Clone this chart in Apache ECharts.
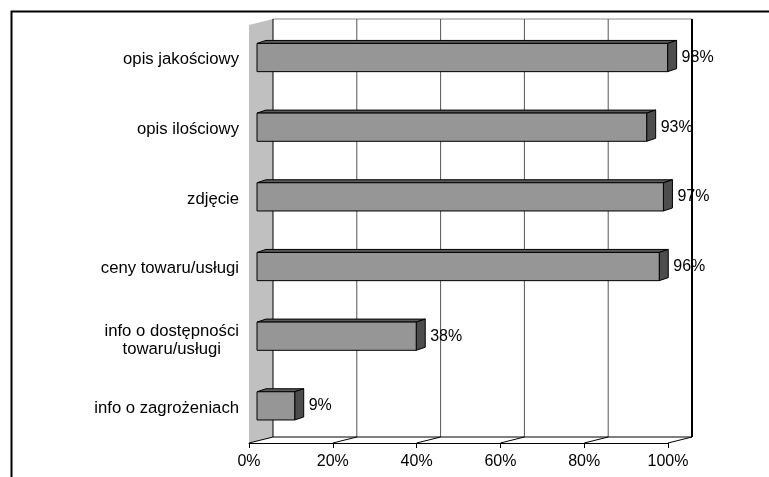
<!DOCTYPE html>
<html>
<head>
<meta charset="utf-8">
<script src="https://cdn.jsdelivr.net/npm/echarts@6/dist/echarts.min.js"></script>
<style>
  html, body { margin: 0; padding: 0; background: #fff; }
  #chart { width: 769px; height: 477px; }
</style>
</head>
<body>
<div id="chart"></div>
<script>
// Categories (top to bottom) and their shares in percent
const categories = [
  'opis jakościowy',
  'opis ilościowy',
  'zdjęcie',
  'ceny towaru/usługi',
  'info o dostępności\ntowaru/usługi',
  'info o zagrożeniach'
];
const values = [98, 93, 97, 96, 38, 9];

// Value axis ticks and their labels
const tickValues = [0, 20, 40, 60, 80, 100];
const tickLabels = ['0%', '20%', '40%', '60%', '80%', '100%'];

const FONT = '"Liberation Sans", Arial, sans-serif';
const CAT_FONT_SIZE = 16.7;
const DEPTH = [24, -6];      // offset of the back wall from the front plane
const BAR_SHIFT = [8, -2.3]; // bars sit a bit behind the front plane
const BAR_DEPTH = [9, -3];   // thickness of each 3D bar
const BAR_RATIO = 0.405;     // bar height relative to category band

const chart = echarts.init(document.getElementById('chart'), null, { renderer: 'canvas' });

// Side wall, back wall grid lines and floor of the 3D box
function renderWalls(params, api) {
  const cs = params.coordSys;
  const top = cs.y, bot = cs.y + cs.height;
  const dx = DEPTH[0], dy = DEPTH[1];
  const xMin = api.coord([tickValues[0], 0])[0];
  const xMax = api.coord([tickValues[tickValues.length - 1], 0])[0];
  const children = [];
  children.push({
    type: 'polygon',
    shape: { points: [[xMin, top], [xMin + dx, top + dy], [xMin + dx, bot + dy], [xMin, bot]] },
    style: { fill: '#c0c0c0' }
  });
  // back wall top edge
  children.push({
    type: 'line',
    shape: { x1: xMin + dx, y1: top + dy, x2: xMax + dx, y2: top + dy },
    style: { stroke: '#8a8a8a', lineWidth: 1 }
  });
  tickValues.forEach(function (v, i) {
    const x = api.coord([v, 0])[0];
    const edge = (i === 0 || i === tickValues.length - 1);
    children.push({
      type: 'line',
      shape: { x1: x + dx, y1: top + dy, x2: x + dx, y2: bot + dy },
      style: { stroke: edge ? '#000' : '#555', lineWidth: i === tickValues.length - 1 ? 2 : 1 }
    });
    children.push({
      type: 'line',
      shape: { x1: x, y1: bot, x2: x + dx, y2: bot + dy },
      style: { stroke: '#000', lineWidth: 1 }
    });
  });
  // floor back edge
  children.push({
    type: 'line',
    shape: { x1: xMin + dx, y1: bot + dy, x2: xMax + dx, y2: bot + dy },
    style: { stroke: '#000', lineWidth: 1 }
  });
  return { type: 'group', children: children };
}

// 3D bar: front face, top face, side face and value label
function renderBar(params, api) {
  const val = api.value(0);
  const cat = api.value(1);
  const start = api.coord([0, cat]);
  const end = api.coord([val, cat]);
  const h = api.size([0, 1])[1] * BAR_RATIO;
  const x0 = start[0] + BAR_SHIFT[0];
  const x1 = end[0] + BAR_SHIFT[0];
  const cy = start[1] + BAR_SHIFT[1];
  const yt = cy - h / 2, yb = cy + h / 2;
  const bx = BAR_DEPTH[0], by = BAR_DEPTH[1];
  const stroke = { stroke: '#000', lineWidth: 1 };
  return {
    type: 'group',
    children: [
      {
        type: 'polygon',
        shape: { points: [[x0, yt], [x0 + bx, yt + by], [x1 + bx, yt + by], [x1, yt]] },
        style: Object.assign({ fill: '#5a5a5a' }, stroke)
      },
      {
        type: 'polygon',
        shape: { points: [[x1, yt], [x1 + bx, yt + by], [x1 + bx, yb + by], [x1, yb]] },
        style: Object.assign({ fill: '#4d4d4d' }, stroke)
      },
      {
        type: 'rect',
        shape: { x: x0, y: yt, width: x1 - x0, height: h },
        style: Object.assign({ fill: '#969696' }, stroke)
      },
      {
        type: 'text',
        x: x1 + bx + 5,
        y: cy,
        z2: 10,
        style: {
          text: val + '%',
          fill: '#000',
          fontSize: 16,
          fontFamily: FONT,
          align: 'left',
          verticalAlign: 'middle'
        }
      }
    ]
  };
}

const option = {
  backgroundColor: '#fff',
  animation: false,
  grid: {
    left: 249, top: 25, width: 419, height: 418,
    containLabel: false,
    outerBoundsMode: 'none'
  },
  xAxis: {
    type: 'value',
    min: 0, max: 100, interval: 20,
    axisLine: { show: true, lineStyle: { color: '#000', width: 1 } },
    axisTick: { show: true, length: 5, lineStyle: { color: '#000' } },
    splitLine: { show: false },
    axisLabel: {
      margin: 11,
      color: '#000',
      fontSize: 16,
      fontFamily: FONT,
      formatter: function (v) { return tickLabels[tickValues.indexOf(v)]; }
    }
  },
  yAxis: {
    type: 'category',
    data: categories,
    inverse: true,
    axisLine: { show: false },
    axisTick: { show: false },
    splitLine: { show: false },
    axisLabel: {
      margin: 10,
      color: '#000',
      fontSize: CAT_FONT_SIZE,
      fontFamily: FONT,
      lineHeight: 18,
      formatter: function (v) {
        if (v.indexOf('\n') < 0) return v;
        return v.split('\n').map(function (s) { return '{c|' + s + '}'; }).join('\n');
      },
      rich: {
        c: {
          align: 'center', fontSize: CAT_FONT_SIZE, fontFamily: FONT, color: '#000',
          lineHeight: 18, padding: [3, 0, 0, 0]
        }
      }
    }
  },
  series: [
    {
      type: 'custom',
      name: 'walls',
      renderItem: renderWalls,
      data: [[0, 0]],
      clip: false,
      silent: true,
      z: 1
    },
    {
      type: 'custom',
      name: 'bars',
      renderItem: renderBar,
      encode: { x: 0, y: 1 },
      data: values.map(function (v, i) { return [v, i]; }),
      clip: false,
      z: 2
    }
  ],
  graphic: [
    {
      type: 'rect',
      left: 9, top: 9,
      shape: { width: 820, height: 520 },
      style: { fill: 'none', stroke: '#000', lineWidth: 2 },
      silent: true
    }
  ]
};

chart.setOption(option);
</script>
</body>
</html>
